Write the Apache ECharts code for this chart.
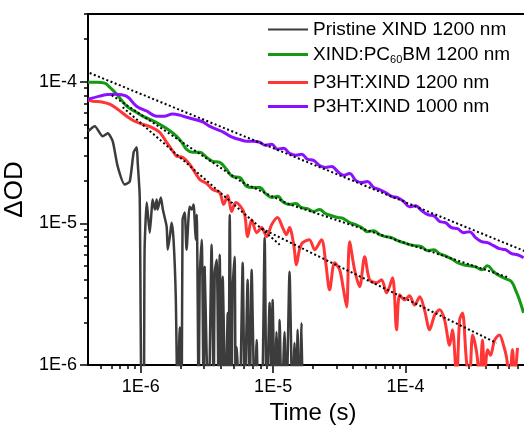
<!DOCTYPE html>
<html>
<head>
<meta charset="utf-8">
<script src="https://cdn.jsdelivr.net/npm/echarts@6/dist/echarts.min.js"></script>
<style>
html, body { margin: 0; padding: 0; background: #fff; }
#main { width: 524px; height: 427px; }
</style>
</head>
<body>
<div id="main"></div>
<script>
// series names (legend order) and colours
var names = ['Pristine XIND 1200 nm', 'XIND:PC60BM 1200 nm', 'P3HT:XIND 1200 nm', 'P3HT:XIND 1000 nm'];
var colors = ['#3c3c3c', '#139913', '#ff3636', '#8a10ff'];

// [time (s), dOD]; 5e-7 / 8e-7 = noise dipping below the axis
var pristine = [
	[4.0e-7, 4.46e-5], [4.5e-7, 4.84e-5], [5.17e-7, 4.11e-5], [5.64e-7, 4.32e-5], [6.15e-7, 3.79e-5],
	[6.70e-7, 2.52e-5], [7.57e-7, 1.88e-5], [8.26e-7, 1.97e-5], [8.85e-7, 3.17e-5], [9.33e-7, 3.44e-5],
	[9.49e-7, 2.69e-5], [9.83e-7, 1.55e-5], [1.017e-6, 5e-7], [1.053e-6, 5e-7], [1.07e-6, 6.51e-6],
	[1.11e-6, 1.40e-5], [1.13e-6, 1.19e-5], [1.17e-6, 8.59e-6], [1.21e-6, 1.25e-5], [1.23e-6, 1.47e-5],
	[1.28e-6, 1.25e-5], [1.32e-6, 1.47e-5], [1.34e-6, 1.25e-5], [1.42e-6, 1.52e-5], [1.47e-6, 1.25e-5],
	[1.57e-6, 9.48e-6], [1.60e-6, 6.51e-6], [1.66e-6, 8.05e-6], [1.71e-6, 1.01e-5], [1.77e-6, 7.67e-6],
	[1.84e-6, 3.03e-6], [1.90e-6, 5e-7], [1.97e-6, 1.85e-6], [2.04e-6, 5e-7], [2.07e-6, 1.06e-5],
	[2.15e-6, 1.19e-5], [2.22e-6, 6.51e-6], [2.34e-6, 1.31e-5], [2.43e-6, 1.25e-5], [2.51e-6, 1.36e-5],
	[2.60e-6, 7.67e-6], [2.65e-6, 1.15e-5], [2.74e-6, 5e-7], [2.79e-6, 4.20e-6], [2.89e-6, 7.67e-6],
	[2.99e-6, 5e-7], [3.04e-6, 4.93e-6], [3.15e-6, 1.14e-6], [3.26e-6, 5e-7], [3.43e-6, 7.07e-6],
	[3.56e-6, 5e-7], [3.62e-6, 4.48e-6], [3.75e-6, 5.53e-6], [3.88e-6, 5e-7], [3.95e-6, 6.00e-6],
	[4.09e-6, 5e-7], [4.16e-6, 4.20e-6], [4.38e-6, 5e-7], [4.54e-6, 2.33e-6], [4.61e-6, 5e-7],
	[4.70e-6, 1.15e-5], [4.86e-6, 5e-7], [4.94e-6, 3.39e-6], [5.12e-6, 5.81e-6], [5.21e-6, 5e-7],
	[5.30e-6, 1.34e-6], [5.59e-6, 5e-7], [5.89e-6, 5.27e-6], [6.10e-6, 5e-7], [6.42e-6, 4.00e-6],
	[6.65e-6, 5e-7], [6.88e-6, 4.70e-6], [7.25e-6, 5e-7], [7.51e-6, 1.50e-6], [7.78e-6, 5e-7],
	[8.19e-6, 5e-7], [8.63e-6, 7.92e-6], [8.93e-6, 5e-7], [9.41e-6, 2.75e-6], [9.75e-6, 5e-7],
	[9.91e-6, 2.88e-6], [1.03e-5, 5e-7], [1.06e-5, 1.71e-6], [1.10e-5, 5e-7], [1.12e-5, 2.08e-6],
	[1.16e-5, 5e-7], [1.22e-5, 1.71e-6], [1.26e-5, 5e-7], [1.33e-5, 4.55e-6], [1.40e-5, 5e-7],
	[1.45e-5, 1.43e-6], [1.50e-5, 5e-7], [1.53e-5, 1.77e-6], [1.58e-5, 5e-7], [1.64e-5, 1.98e-6],
	[1.67e-5, 5e-7]
];

var pcbm = [
	[4.0e-7, 9.9e-5], [4.66e-7, 9.9e-5], [5.35e-7, 9.76e-5], [5.83e-7, 9.14e-5], [6.59e-7, 8.15e-5],
	[7.84e-7, 6.7e-5], [9.0e-7, 6.18e-5], [1.035e-6, 5.7e-5], [1.21e-6, 5.34e-5], [1.39e-6, 5.0e-5],
	[1.6e-6, 4.61e-5], [1.87e-6, 4.11e-5], [2.04e-6, 3.73e-5], [2.22e-6, 3.33e-5], [2.47e-6, 3.17e-5],
	[2.79e-6, 3.17e-5], [3.15e-6, 2.92e-5], [3.49e-6, 2.74e-5], [3.95e-6, 2.69e-5], [4.46e-6, 2.40e-5],
	[4.94e-6, 2.14e-5], [5.59e-6, 2.11e-5], [6.31e-6, 1.82e-5], [7.0e-6, 1.79e-5], [7.91e-6, 1.79e-5],
	[8.78e-6, 1.62e-5], [9.75e-6, 1.52e-5], [1.08e-5, 1.55e-5], [1.20e-5, 1.40e-5], [1.33e-5, 1.36e-5],
	[1.48e-5, 1.38e-5], [1.64e-5, 1.29e-5], [1.82e-5, 1.27e-5], [2.02e-5, 1.21e-5], [2.24e-5, 1.25e-5],
	[2.49e-5, 1.17e-5], [2.77e-5, 1.13e-5], [3.07e-5, 1.10e-5], [3.40e-5, 1.08e-5], [3.78e-5, 1.01e-5],
	[4.20e-5, 9.79e-6], [4.66e-5, 9.33e-6], [5.17e-5, 8.73e-6], [5.73e-5, 8.87e-6], [6.37e-5, 8.32e-6],
	[7.06e-5, 8.05e-6], [7.84e-5, 7.92e-6], [8.71e-5, 7.54e-6], [9.66e-5, 7.30e-6], [1.07e-4, 7.07e-6],
	[1.19e-4, 6.95e-6], [1.32e-4, 6.84e-6], [1.47e-4, 6.41e-6], [1.63e-4, 6.51e-6], [1.81e-4, 6.10e-6],
	[2.00e-4, 5.90e-6], [2.22e-4, 5.62e-6], [2.47e-4, 5.27e-6], [2.74e-4, 5.10e-6], [3.04e-4, 5.01e-6],
	[3.38e-4, 4.93e-6], [3.75e-4, 4.70e-6], [4.16e-4, 5.01e-6], [4.62e-4, 4.55e-6], [5.12e-4, 4.26e-6],
	[5.69e-4, 4.06e-6], [6.31e-4, 3.87e-6], [6.76e-4, 3.39e-6], [7.25e-4, 2.88e-6], [7.78e-4, 2.33e-6]
];

var p3ht1200 = [
	[4.0e-7, 7.4e-5], [4.34e-7, 7.28e-5], [5.17e-7, 7.16e-5], [5.83e-7, 6.93e-5], [6.7e-7, 6.38e-5],
	[7.84e-7, 5.70e-5], [9.0e-7, 5.25e-5], [1.035e-6, 5.0e-5], [1.21e-6, 4.76e-5], [1.39e-6, 4.39e-5],
	[1.57e-6, 3.73e-5], [1.71e-6, 3.33e-5], [1.87e-6, 2.97e-5], [2.07e-6, 2.92e-5], [2.34e-6, 2.61e-5],
	[2.79e-6, 2.04e-5], [3.15e-6, 1.91e-5], [3.49e-6, 1.73e-5], [3.95e-6, 1.65e-5], [4.23e-6, 1.36e-5],
	[4.54e-6, 1.57e-5], [4.86e-6, 1.21e-5], [5.21e-6, 1.40e-5], [5.69e-6, 1.31e-5], [6.10e-6, 1.15e-5],
	[6.42e-6, 8.05e-6], [6.88e-6, 1.06e-5], [7.51e-6, 8.59e-6], [8.19e-6, 9.33e-6], [8.93e-6, 8.05e-6],
	[9.75e-6, 9.79e-6], [1.08e-5, 1.10e-5], [1.18e-5, 9.33e-6], [1.26e-5, 8.32e-6], [1.33e-5, 9.33e-6],
	[1.43e-5, 7.07e-6], [1.50e-5, 5.10e-6], [1.58e-5, 6.51e-6], [1.67e-5, 7.30e-6], [1.88e-5, 7.67e-6],
	[2.06e-5, 6.51e-6], [2.32e-5, 7.67e-6], [2.49e-5, 5.36e-6], [2.67e-5, 3.39e-6], [2.91e-5, 5.27e-6],
	[3.18e-5, 4.70e-6], [3.40e-5, 3.39e-6], [3.59e-5, 2.57e-6], [3.78e-5, 7.42e-6], [4.12e-5, 4.70e-6],
	[4.50e-5, 3.57e-6], [4.91e-5, 5.81e-6], [5.35e-5, 4.00e-6], [6.04e-5, 3.80e-6], [6.59e-5, 4.00e-6],
	[7.19e-5, 3.23e-6], [7.98e-5, 4.12e-6], [8.55e-5, 1.77e-6], [9.02e-5, 3.13e-6], [9.82e-5, 2.88e-6],
	[1.07e-4, 3.08e-6], [1.17e-4, 2.65e-6], [1.28e-4, 3.03e-6], [1.39e-4, 2.45e-6], [1.52e-4, 1.77e-6],
	[1.66e-4, 2.26e-6], [1.81e-4, 2.45e-6], [1.97e-4, 2.08e-6], [2.15e-4, 1.38e-6], [2.26e-4, 1.77e-6],
	[2.43e-4, 8e-7], [2.56e-4, 2.08e-6], [2.69e-4, 2.33e-6], [2.88e-4, 1.08e-6], [3.04e-4, 8e-7],
	[3.21e-4, 1.63e-6], [3.44e-4, 1.23e-6], [3.62e-4, 8e-7], [3.81e-4, 1.50e-6], [3.95e-4, 8e-7],
	[4.16e-4, 1.28e-6], [4.38e-4, 1.17e-6], [4.70e-4, 1.50e-6], [5.12e-4, 1.63e-6], [5.49e-4, 1.38e-6],
	[5.78e-4, 1.14e-6], [6.10e-4, 8e-7], [6.42e-4, 1.28e-6], [6.65e-4, 8e-7], [7.00e-4, 1.32e-6]
];

var p3ht1000 = [
	[4.0e-7, 7.5e-5], [4.9e-7, 7.9e-5], [5.6e-7, 8.1e-5], [6.4e-7, 8.15e-5], [7.8e-7, 7.9e-5],
	[9.3e-7, 6.7e-5], [1.11e-6, 6.2e-5], [1.32e-6, 5.7e-5], [1.5e-6, 5.7e-5], [1.74e-6, 5.9e-5],
	[1.97e-6, 5.8e-5], [2.22e-6, 5.6e-5], [2.56e-6, 5.4e-5], [2.94e-6, 5.2e-5], [3.3e-6, 4.85e-5],
	[3.75e-6, 4.6e-5], [4.2e-6, 4.4e-5], [4.9e-6, 4.05e-5], [5.6e-6, 3.9e-5], [6.3e-6, 3.8e-5],
	[7.0e-6, 3.8e-5], [7.9e-6, 3.73e-5], [8.78e-6, 3.55e-5], [9.75e-6, 3.61e-5], [1.08e-5, 3.33e-5],
	[1.20e-5, 3.38e-5], [1.33e-5, 3.12e-5], [1.48e-5, 3.02e-5], [1.64e-5, 3.07e-5], [1.82e-5, 2.83e-5],
	[2.02e-5, 2.78e-5], [2.24e-5, 2.56e-5], [2.49e-5, 2.48e-5], [2.77e-5, 2.52e-5], [3.07e-5, 2.32e-5],
	[3.40e-5, 2.18e-5], [3.78e-5, 2.25e-5], [4.20e-5, 2.01e-5], [4.66e-5, 1.94e-5], [5.17e-5, 1.97e-5],
	[5.73e-5, 1.79e-5], [6.37e-5, 1.73e-5], [7.06e-5, 1.65e-5], [7.84e-5, 1.55e-5], [8.71e-5, 1.52e-5],
	[9.66e-5, 1.43e-5], [1.07e-4, 1.31e-5], [1.19e-4, 1.33e-5], [1.32e-4, 1.23e-5], [1.47e-4, 1.15e-5],
	[1.63e-4, 1.13e-5], [1.81e-4, 1.03e-5], [2.00e-4, 1.01e-5], [2.22e-4, 9.33e-6], [2.47e-4, 9.17e-6],
	[2.74e-4, 8.59e-6], [3.04e-4, 8.73e-6], [3.38e-4, 7.92e-6], [3.75e-4, 7.42e-6], [4.16e-4, 7.30e-6],
	[4.62e-4, 6.95e-6], [5.12e-4, 6.62e-6], [5.69e-4, 6.51e-6], [6.31e-4, 6.10e-6], [7.00e-4, 6.00e-6],
	[7.78e-4, 5.72e-6]
];

// dotted power-law guides
var fitP3ht1000 = [[4.12e-7, 1.15e-4], [8.5e-4, 6.2e-6]];
var fitPcbm = [[6.04e-7, 8.02e-5], [5.89e-6, 1.94e-5], [1.33e-5, 1.36e-5], [6.10e-4, 4.12e-6]];
var fitP3ht1200a = [[7.31e-7, 6.6e-5], [1.12e-5, 7.07e-6]];
var fitP3ht1200b = [[8.19e-6, 9.17e-6], [4.86e-4, 1.43e-6]];

// ticks
var xMajor = [1e-6, 1e-5, 1e-4];
var xMinor = [5e-7, 6e-7, 7e-7, 8e-7, 9e-7, 2e-6, 3e-6, 4e-6, 5e-6, 6e-6, 7e-6, 8e-6, 9e-6,
	2e-5, 3e-5, 4e-5, 5e-5, 6e-5, 7e-5, 8e-5, 9e-5, 2e-4, 3e-4, 4e-4, 5e-4, 6e-4, 7e-4, 8e-4, 9e-4];
var yMajor = [1e-6, 1e-5, 1e-4];
var yMinor = [2e-6, 3e-6, 4e-6, 5e-6, 6e-6, 7e-6, 8e-6, 9e-6,
	2e-5, 3e-5, 4e-5, 5e-5, 6e-5, 7e-5, 8e-5, 9e-5, 2e-4, 3e-4];

var FONT = 'Arial, "Liberation Sans", sans-serif';

function sciLabel(v) {
	return '1E' + Math.round(Math.log10(v));
}

var myChart = echarts.init(document.getElementById('main'));

function axisBase(min, max) {
	return { type: 'log', logBase: 10, min: min, max: max, splitLine: { show: false } };
}

var xRange = [4e-7, 1e-3];
var yRange = [1e-6, 3e-4];

var legendTops = [19, 39, 72, 96];
var legends = names.map(function (n, i) {
	var lg = {
		data: [n],
		left: 268,
		top: legendTops[i],
		padding: 0,
		icon: 'rect',
		itemWidth: 40,
		itemHeight: i === 0 ? 2 : 3,
		selectedMode: false,
		textStyle: { fontFamily: FONT, fontSize: 19, color: '#000', lineHeight: 21 }
	};
	if (i === 1) {
		lg.formatter = function (name) {
			var p = name.split('60');
			return '{n|' + p[0] + '}{sub|60}{n|' + p[1] + '}';
		};
		lg.textStyle.rich = {
			n: { fontFamily: FONT, fontSize: 19, color: '#000', lineHeight: 21, padding: [6, 0, 6, 0] },
			sub: { fontFamily: FONT, fontSize: 11, color: '#000', lineHeight: 12, verticalAlign: 'bottom' }
		};
	}
	return lg;
});

function curve(idx, data, width, smooth) {
	return {
		name: names[idx],
		type: 'line',
		data: data,
		color: colors[idx],
		showSymbol: false,
		symbol: 'none',
		smooth: smooth,
		clip: true,
		lineStyle: { width: width, color: colors[idx] }
	};
}

function guide(data) {
	return {
		name: 'fit',
		type: 'line',
		data: data,
		showSymbol: false,
		symbol: 'none',
		silent: true,
		clip: true,
		z: 5,
		lineStyle: { width: 2, color: '#000', type: [2, 2.5] }
	};
}

var option = {
	animation: false,
	backgroundColor: '#fff',
	legend: legends,
	grid: {
		left: 88, top: 14, width: 450, height: 351,
		outerBoundsMode: 'none',
		containLabel: false,
		show: true, borderColor: '#000', borderWidth: 2, backgroundColor: 'transparent'
	},
	xAxis: [
		Object.assign(axisBase(xRange[0], xRange[1]), {
			position: 'bottom',
			name: 'Time (s)',
			nameLocation: 'middle',
			nameGap: 36,
			nameTextStyle: { fontFamily: FONT, fontSize: 24, color: '#000' },
			axisLine: { show: true, lineStyle: { color: '#000', width: 2 } },
			axisTick: { show: true, inside: false, length: 8, customValues: xMajor, lineStyle: { color: '#000', width: 1.5 } },
			axisLabel: { show: true, customValues: xMajor, margin: 13, formatter: sciLabel, fontFamily: FONT, fontSize: 18, color: '#000' }
		}),
		Object.assign(axisBase(xRange[0], xRange[1]), {
			position: 'bottom',
			axisLine: { show: false },
			axisTick: { show: true, inside: false, length: 4, customValues: xMinor, lineStyle: { color: '#000', width: 1.5 } },
			axisLabel: { show: false }
		})
	],
	yAxis: [
		Object.assign(axisBase(yRange[0], yRange[1]), {
			position: 'left',
			name: 'ΔOD',
			nameLocation: 'middle',
			nameGap: 52,
			nameTextStyle: { fontFamily: FONT, fontSize: 26, color: '#000' },
			axisLine: { show: true, lineStyle: { color: '#000', width: 2 } },
			axisTick: { show: true, inside: false, length: 8, customValues: yMajor, lineStyle: { color: '#000', width: 1.5 } },
			axisLabel: { show: true, customValues: yMajor, margin: 11, formatter: sciLabel, fontFamily: FONT, fontSize: 18, color: '#000' }
		}),
		Object.assign(axisBase(yRange[0], yRange[1]), {
			position: 'left',
			axisLine: { show: false },
			axisTick: { show: true, inside: false, length: 4, customValues: yMinor, lineStyle: { color: '#000', width: 1.5 } },
			axisLabel: { show: false }
		})
	],
	series: [
		curve(0, pristine, 2.5, 0.2),
		curve(1, pcbm, 3, 0.4),
		curve(2, p3ht1200, 3, 0.3),
		curve(3, p3ht1000, 3, 0.4),
		guide(fitP3ht1000),
		guide(fitPcbm),
		guide(fitP3ht1200a),
		guide(fitP3ht1200b)
	]
};

myChart.setOption(option);
</script>
</body>
</html>
